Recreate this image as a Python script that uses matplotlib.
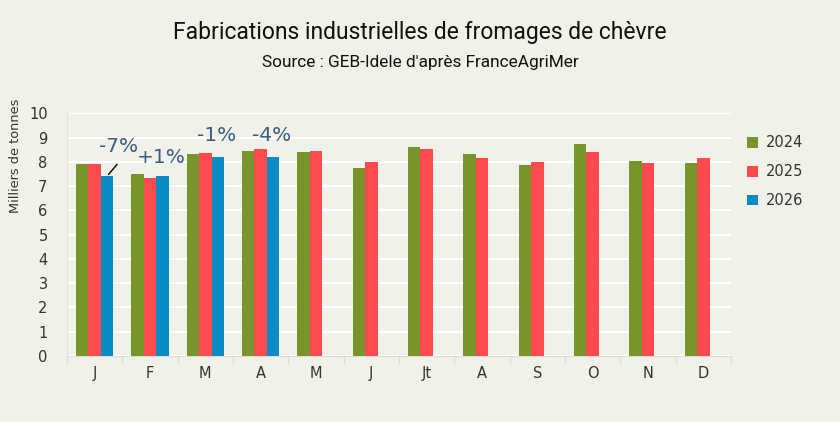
import numpy as np
import matplotlib
matplotlib.use("Agg")
from matplotlib import pyplot as plt

months = ["J", "F", "M", "A", "M", "J", "Jt", "A", "S", "O", "N", "D"]
years = ["2024", "2025", "2026"]
v2024 = [7.90, 7.51, 8.32, 8.46, 8.41, 7.73, 8.61, 8.32, 7.87, 8.72, 8.03, 7.94]
v2025 = [7.93, 7.32, 8.36, 8.52, 8.43, 7.98, 8.53, 8.14, 8.01, 8.39, 7.95, 8.17]
v2026 = [7.40, 7.43, 8.21, 8.21]
evol_labels = ["-7%", "+1%", "-1%", "-4%"]

colors = ["#77952B", "#FF4A50", "#098BC5"]
bg = "#F0F1E8"

fig = plt.figure(figsize=(8.4, 4.22), dpi=100, facecolor=bg)
ax = fig.add_axes([0.0798, 0.1564, 0.7905, 0.5751], facecolor=bg)

x = np.arange(len(months))
w = 0.226
ax.bar(x - w, v2024, w, color=colors[0], label=years[0], zorder=3)
ax.bar(x, v2025, w, color=colors[1], label=years[1], zorder=3)
ax.bar(x[:len(v2026)] + w, v2026, w, color=colors[2], label=years[2], zorder=3)

ax.set_xlim(-0.5, len(months) - 0.5)
ax.set_ylim(0, 10)
ax.set_yticks(range(0, 11))
ax.yaxis.grid(True, color="white", linewidth=1.6, zorder=0)
ax.set_axisbelow(True)

for s in ["top", "right"]:
    ax.spines[s].set_visible(False)
ax.spines["left"].set_color("#E2E3DA")
ax.spines["bottom"].set_color("#DCDDD4")
ax.spines["left"].set_linewidth(1)

ax.set_xticks(x)
ax.set_xticklabels(months)
ax.set_xticks(np.arange(-0.5, len(months)), minor=True)
ax.tick_params(axis="x", which="major", length=0, pad=7, labelsize=10.5, labelcolor="#333333")
ax.tick_params(axis="x", which="minor", length=6, color="#DCDDD4", width=1)
ax.tick_params(axis="y", length=0, pad=14, labelsize=10.5, labelcolor="#333333")

# variations 2026 / 2025
lab_pos = [(0.44, 8.65), (1.21, 8.16), (2.21, 9.1), (3.2, 9.1)]
for (px, py), t in zip(lab_pos, evol_labels):
    ax.text(px, py, t, fontsize=14.5, color="#3C5A82", ha="center", va="center", zorder=4)
ax.annotate("", xy=(0.215, 7.39), xytext=(0.437, 7.98),
            arrowprops=dict(arrowstyle="-", color="black", lw=1), zorder=4)

fig.text(0.5, 0.922, "Fabrications industrielles de fromages de chèvre",
         ha="center", va="center", fontsize=16.5, color="#111111", family="Roboto")
fig.text(0.5, 0.851, "Source : GEB-Idele d'après FranceAgriMer",
         ha="center", va="center", fontsize=12.4, color="#111111", family="Roboto")
fig.text(0.019, 1 - 99 / 422, "Milliers de tonnes", rotation=90, ha="center",
         va="top", fontsize=9.3, color="#333333")

leg = ax.legend(loc="upper left", bbox_to_anchor=(1.005, 0.963), frameon=False,
                handlelength=0.75, handleheight=0.75, handletextpad=0.5,
                labelspacing=0.95, fontsize=10.5)
for t in leg.get_texts():
    t.set_color("#333333")

fig.savefig("out.png", dpi=100, facecolor=bg)
